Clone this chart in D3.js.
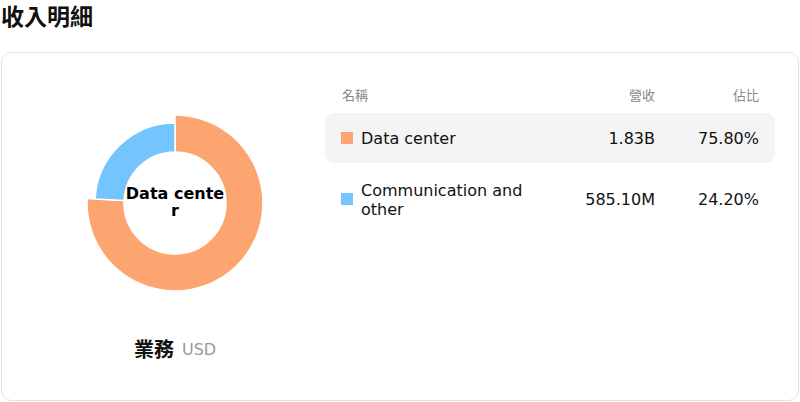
<!DOCTYPE html>
<html>
<head>
<meta charset="utf-8">
<script src="https://cdn.jsdelivr.net/npm/d3@7"></script>
<style>
  body { margin: 0; background: #fff; }
  svg { display: block; font-family: "DejaVu Sans", "Noto Sans CJK TC", sans-serif; }
</style>
</head>
<body>
<svg id="chart" width="800" height="402"></svg>
<script>
// 資料
let names = ['Data center', 'Communication and other'];
let nameLines = [['Data center'], ['Communication and', 'other']];
let revenueLabels = ['1.83B', '585.10M'];
let shares = [75.80, 24.20];
let colors = ['#fda570', '#74c4fe'];
let headers = ['名稱', '營收', '佔比'];

let svg = d3.select('#chart');
let cjk = '"Noto Sans CJK TC", "DejaVu Sans", sans-serif';

// 標題
svg.append('text')
    .attr('x', 1).attr('y', 25)
    .style('font-family', cjk)
    .style('font-size', '23px').style('font-weight', 'bold')
    .attr('fill', '#111')
    .text('收入明細');

// 卡片
svg.append('rect')
    .attr('x', 1.5).attr('y', 52.5)
    .attr('width', 797).attr('height', 348)
    .attr('rx', 10)
    .attr('fill', '#fff').attr('stroke', '#e2e0ea');

// 圓環圖
let cx = 175, cy = 203;
let pie = d3.pie().sort(null).value(d => d);
let arcs = pie(shares);
let arcNormal = d3.arc().innerRadius(51).outerRadius(80);
let arcActive = d3.arc().innerRadius(51).outerRadius(88);

svg.append('g')
    .attr('transform', 'translate(' + cx + ',' + cy + ')')
    .selectAll('path')
    .data(arcs)
    .enter()
    .append('path')
    .attr('d', (d, i) => i === 0 ? arcActive(d) : arcNormal(d))
    .attr('fill', (d, i) => colors[i])
    .attr('stroke', '#fff')
    .attr('stroke-width', 1.5);

// 中心文字 (斷行)
let center = svg.append('text')
    .attr('text-anchor', 'middle')
    .style('font-size', '16px').style('font-weight', 'bold')
    .attr('fill', '#000');
center.append('tspan').attr('x', cx).attr('y', 199).text('Data cente');
center.append('tspan').attr('x', cx).attr('y', 216).text('r');

// 業務 USD
svg.append('text')
    .attr('x', 134).attr('y', 357)
    .style('font-family', cjk)
    .style('font-size', '20px').style('font-weight', 'bold')
    .attr('fill', '#111')
    .text('業務');
svg.append('text')
    .attr('x', 182).attr('y', 355)
    .style('font-size', '16px')
    .attr('fill', '#999')
    .text('USD');

// 表格
let colX = [342, 655, 759];
svg.selectAll('.hdr')
    .data(headers)
    .enter()
    .append('text')
    .attr('class', 'hdr')
    .attr('x', (d, i) => colX[i])
    .attr('y', 100)
    .attr('text-anchor', (d, i) => i === 0 ? 'start' : 'end')
    .style('font-family', cjk)
    .style('font-size', '13px')
    .attr('fill', '#888')
    .text(d => d);

let rowY = d3.scalePoint().domain(names).range([138, 199]);

// 第一列高亮
svg.append('rect')
    .attr('x', 325).attr('y', 113)
    .attr('width', 450).attr('height', 50)
    .attr('rx', 9)
    .attr('fill', '#f4f4f4');

let rows = svg.selectAll('.row')
    .data(names)
    .enter()
    .append('g')
    .attr('class', 'row')
    .attr('transform', d => 'translate(0,' + rowY(d) + ')');

rows.append('rect')
    .attr('x', 341).attr('y', -6)
    .attr('width', 12).attr('height', 12)
    .attr('fill', (d, i) => colors[i]);

rows.each(function (d, i) {
    let g = d3.select(this);
    let lines = nameLines[i];
    let t = g.append('text')
        .attr('x', 361)
        .style('font-size', '16px')
        .attr('fill', '#111');
    lines.forEach((l, k) => {
        t.append('tspan')
            .attr('x', 361)
            .attr('y', 6 + (k - (lines.length - 1) / 2) * 19)
            .text(l);
    });
    g.append('text')
        .attr('x', colX[1]).attr('y', 6)
        .attr('text-anchor', 'end')
        .style('font-size', '16px')
        .attr('fill', '#111')
        .text(revenueLabels[i]);
    g.append('text')
        .attr('x', colX[2]).attr('y', 6)
        .attr('text-anchor', 'end')
        .style('font-size', '16px')
        .attr('fill', '#111')
        .text(shares[i].toFixed(2) + '%');
});
</script>
</body>
</html>
